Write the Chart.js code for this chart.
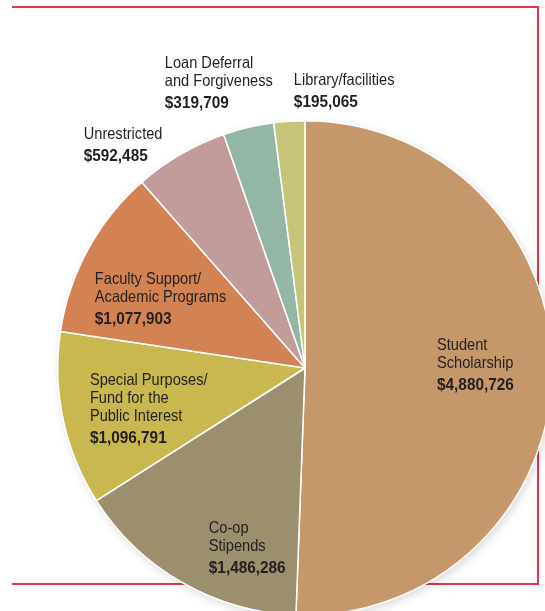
<!DOCTYPE html>
<html>
<head>
<meta charset="utf-8">
<script src="https://cdn.jsdelivr.net/npm/chart.js@4.4.0/dist/chart.umd.min.js"></script>
<style>
  html, body { margin: 0; padding: 0; background: #ffffff; width: 545px; height: 611px; overflow: hidden; }
  #frame { position: absolute; left: 12px; top: 6px; width: 525px; height: 575px;
           border-top: 2px solid #e63447; border-right: 2px solid #e63447; border-bottom: 2px solid #e63447; }
  #wrap { position: absolute; left: 0; top: 0; width: 560px; height: 620px; }
</style>
</head>
<body>
<div id="frame"></div>
<div id="wrap"><canvas id="c"></canvas></div>
<script>
const categories = [
  ["Student", "Scholarship"],
  ["Co-op", "Stipends"],
  ["Special Purposes/", "Fund for the", "Public Interest"],
  ["Faculty Support/", "Academic Programs"],
  ["Unrestricted"],
  ["Loan Deferral", "and Forgiveness"],
  ["Library/facilities"]
];
const values = [4880726, 1486286, 1096791, 1077903, 592485, 319709, 195065];
const valueLabels = ["$4,880,726", "$1,486,286", "$1,096,791", "$1,077,903", "$592,485", "$319,709", "$195,065"];
const colors = ["#c4986a", "#9b8f6d", "#c8b84f", "#d38353", "#c29c9a", "#94b7a5", "#c6c47a"];

// label anchors relative to pie centre, in units of the pie radius (left edge, first baseline)
const labelAnchors = [
  [0.534, -0.073], [-0.389, 0.668], [-0.870, 0.069], [-0.850, -0.340],
  [-0.895, -0.927], [-0.567, -1.215], [-0.045, -1.146]
];

const FONT = "'Liberation Sans', Arial, sans-serif";
const FONT_SIZE = 16.5;
const SQUEEZE = 0.885;
const SQUEEZE_BOLD = 0.93;

const shadowPlugin = {
  id: 'pieShadow',
  beforeDatasetsDraw(chart) {
    const arc = chart.getDatasetMeta(0).data[0];
    if (!arc) return;
    const ctx = chart.ctx;
    ctx.save();
    ctx.shadowColor = 'rgba(0,0,0,0.16)';
    ctx.shadowBlur = 10;
    ctx.shadowOffsetX = 2;
    ctx.shadowOffsetY = 3;
    ctx.fillStyle = '#ffffff';
    ctx.beginPath();
    ctx.arc(arc.x, arc.y, arc.outerRadius, 0, Math.PI * 2);
    ctx.fill();
    ctx.restore();
  }
};

function squeezedText(ctx, text, x, y, s) {
  ctx.save();
  ctx.translate(x, y);
  ctx.scale(s, 1);
  ctx.fillText(text, 0, 0);
  ctx.restore();
}

const labelPlugin = {
  id: 'sliceLabels',
  afterDatasetsDraw(chart) {
    const meta = chart.getDatasetMeta(0);
    const ctx = chart.ctx;
    ctx.save();
    ctx.fillStyle = '#231f20';
    ctx.textAlign = 'left';
    ctx.textBaseline = 'alphabetic';
    meta.data.forEach((arc, i) => {
      const r = arc.outerRadius;
      const x = arc.x + labelAnchors[i][0] * r;
      let y = arc.y + labelAnchors[i][1] * r;
      ctx.font = FONT_SIZE + "px " + FONT;
      categories[i].forEach((line, k) => {
        if (k > 0) y += 18;
        squeezedText(ctx, line, x, y, SQUEEZE);
      });
      y += 22;
      ctx.font = "bold " + FONT_SIZE + "px " + FONT;
      squeezedText(ctx, valueLabels[i], x, y, SQUEEZE_BOLD);
    });
    ctx.restore();
  }
};

new Chart(document.getElementById('c'), {
  type: 'pie',
  data: {
    labels: categories.map(c => c.join(' ')),
    datasets: [{
      data: values,
      backgroundColor: colors,
      borderColor: '#ffffff',
      borderWidth: 1.5,
      hoverOffset: 0
    }]
  },
  options: {
    responsive: true,
    maintainAspectRatio: false,
    animation: false,
    events: [],
    layout: { padding: { left: 57, top: 120, right: 7, bottom: 4 } },
    plugins: { legend: { display: false }, tooltip: { enabled: false } }
  },
  plugins: [shadowPlugin, labelPlugin]
});
</script>
</body>
</html>
